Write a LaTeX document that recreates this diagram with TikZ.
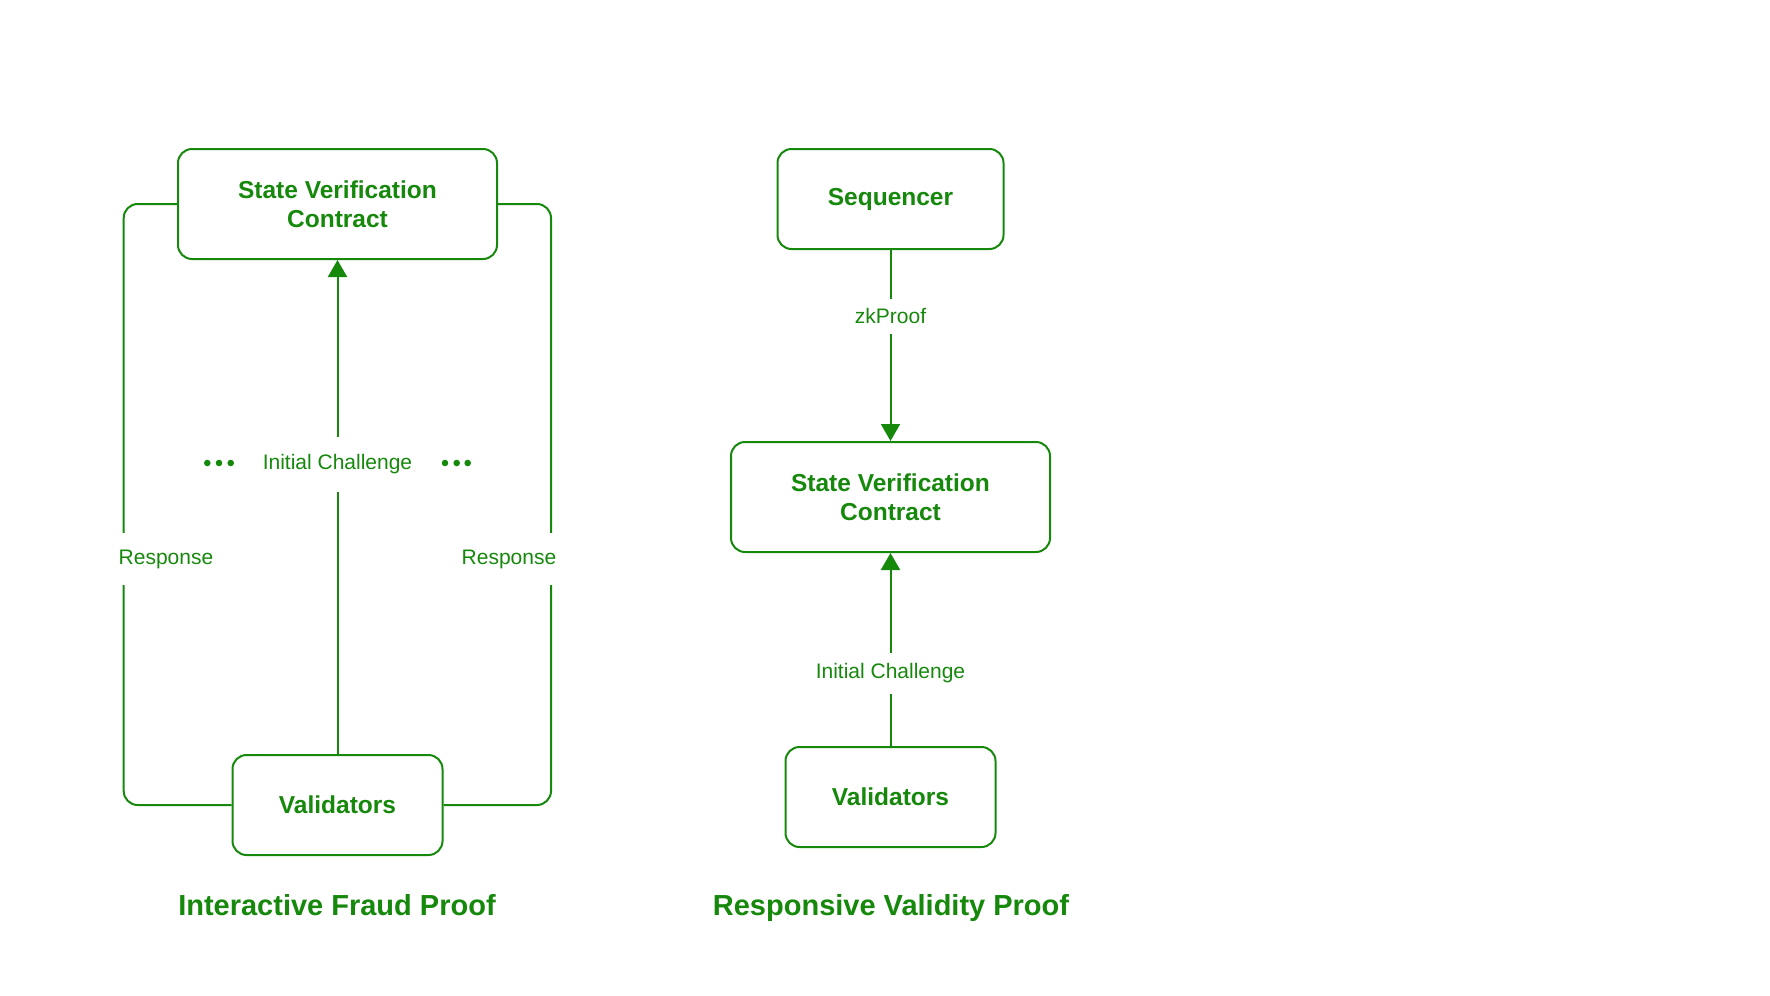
\documentclass[tikz,border=0pt]{standalone}
\usepackage{fontspec}
\setmainfont{Liberation Sans}
\usetikzlibrary{arrows.meta}
\definecolor{gr}{RGB}{22,137,12}
\begin{document}
\begin{tikzpicture}[x=1pt,y=-1pt,
  box/.style={draw=gr, line width=2pt, rounded corners=14pt, inner sep=0pt, align=center, text=gr, font=\fontsize{24.5}{29}\selectfont\bfseries},
  lbl/.style={fill=white, text=gr, inner xsep=2pt, inner ysep=0pt, font=\fontsize{21}{25}\selectfont},
  conn/.style={draw=gr, line width=2pt},
  arr/.style={conn, -{Triangle[width=19pt,length=17pt]}},
  ttl/.style={text=gr, anchor=base, font=\fontsize{29}{34}\selectfont\bfseries},
  dot/.style={fill=gr}
]
\useasboundingbox[fill=white] (0,0) rectangle (1770,996);

% Left diagram
\node[box, minimum width=319pt, minimum height=110pt] (sv1) at (337.5,204) {State Verification\\Contract};
\node[box, minimum width=210pt, minimum height=100pt] (val1) at (337.5,805) {Validators};
\draw[arr] (val1.north) -- (sv1.south);
\draw[conn, rounded corners=14pt] (val1.west) -- (123.7,805) -- (123.7,204) -- (sv1.west);
\draw[conn, rounded corners=14pt] (val1.east) -- (551,805) -- (551,204) -- (sv1.east);
\node[lbl, minimum height=55pt] (ic1) at (337.5,464) {Initial Challenge};
\node[lbl, minimum height=52pt] (r1) at (166,559) {Response};
\node[lbl, minimum height=52pt] (r2) at (509,559) {Response};
\foreach \x in {207.3,219,230.7,445,456.7,467.7} \fill[dot] (\x,463) circle (3.3pt);
\node[ttl] (t1) at (337,915.5) {Interactive Fraud Proof};

% Right diagram
\node[box, minimum width=226pt, minimum height=100pt] (seq) at (890.5,199) {Sequencer};
\node[box, minimum width=319pt, minimum height=110pt] (sv2) at (890.5,497) {State Verification\\Contract};
\node[box, minimum width=210pt, minimum height=100pt] (val2) at (890.5,797) {Validators};
\draw[arr] (seq.south) -- (sv2.north);
\draw[arr] (val2.north) -- (sv2.south);
\node[lbl, minimum height=35pt] (zk) at (890.5,316) {zkProof};
\node[lbl, minimum height=41pt] (ic2) at (890.5,673) {Initial Challenge};
\node[ttl] (t2) at (891,915.5) {Responsive Validity Proof};
\end{tikzpicture}
\end{document}
